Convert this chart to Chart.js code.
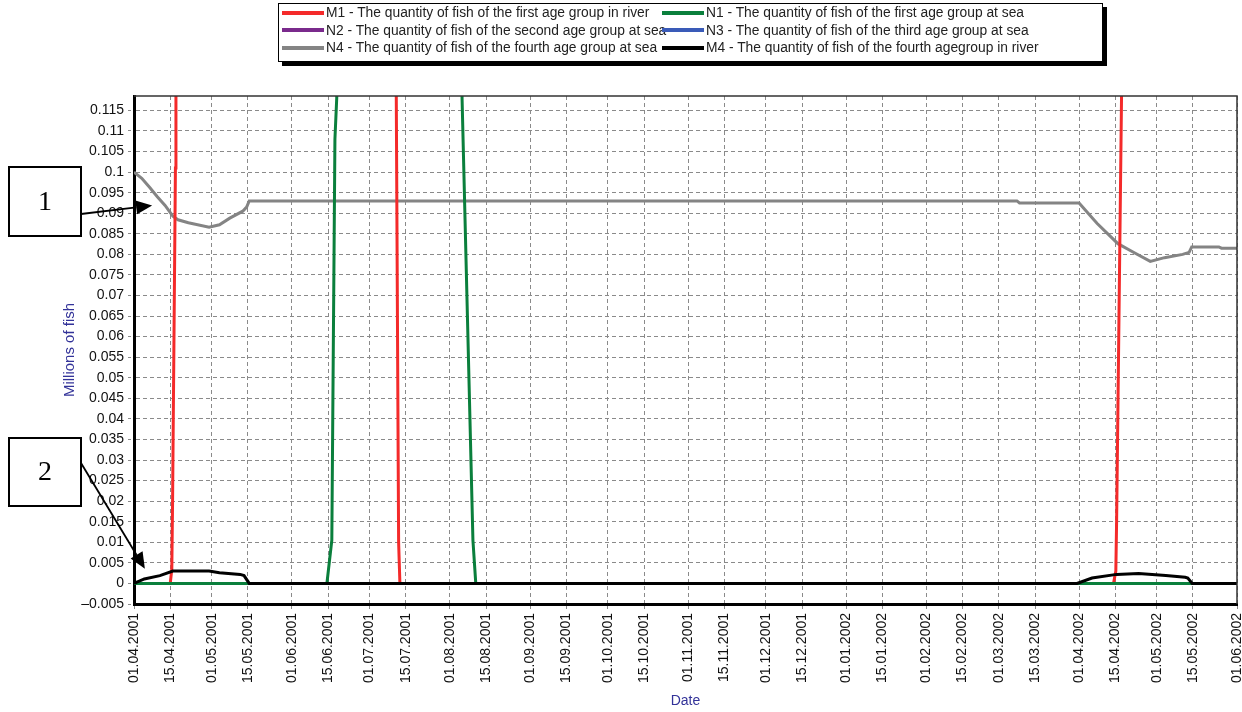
<!DOCTYPE html>
<html>
<head>
<meta charset="utf-8">
<title>Quantity of fish by age group</title>
<script src="https://cdn.jsdelivr.net/npm/chart.js@4.4.1/dist/chart.umd.min.js"></script>
<style>
    body { margin: 0; background: #fff; }
    #wrap { position: relative; width: 1242px; height: 712px; }
    #legend {
        position: absolute; left: 278px; top: 3px; width: 825px; height: 59px;
        box-sizing: border-box; border: 1px solid #000; box-shadow: 4px 4px 0 #000;
        background: #fff; padding: 0 0 0 3px;
        display: grid; grid-template-columns: 380px 440px; grid-auto-rows: 17.5px;
        font: 13.8px 'Liberation Sans', Arial, sans-serif; color: #222;
    }
    .item { display: flex; align-items: center; white-space: nowrap; }
    .swatch { width: 42px; height: 4px; margin-right: 2px; flex: none; }
</style>
</head>
<body>
<div id="wrap">
    <canvas id="fishChart" width="1242" height="712"></canvas>
    <div id="legend"></div>
</div>
<script>
// x is days since 01.04.2001
var startDate = Date.UTC(2001, 3, 1);

// tick labels
var xTickLabels = ['01.04.2001', '15.04.2001', '01.05.2001', '15.05.2001', '01.06.2001', '15.06.2001',
    '01.07.2001', '15.07.2001', '01.08.2001', '15.08.2001', '01.09.2001', '15.09.2001',
    '01.10.2001', '15.10.2001', '01.11.2001', '15.11.2001', '01.12.2001', '15.12.2001',
    '01.01.2002', '15.01.2002', '01.02.2002', '15.02.2002', '01.03.2002', '15.03.2002',
    '01.04.2002', '15.04.2002', '01.05.2002', '15.05.2002', '01.06.2002'];
var yTicks = [-0.005, 0, 0.005, 0.01, 0.015, 0.02, 0.025, 0.03, 0.035, 0.04, 0.045, 0.05, 0.055,
    0.06, 0.065, 0.07, 0.075, 0.08, 0.085, 0.09, 0.095, 0.1, 0.105, 0.11, 0.115];

// M1 - first age group in river (goes off the top of the scale)
var m1Days = [0, 14.0, 14.6, 14.9, 16.0, 16.2, 101.1, 101.3, 102.2, 102.7, 378.3, 379.2, 379.5, 381.4, 381.6, 426];
var m1Values = [0, 0, 0.0035, 0.02, 0.101, 0.2, 0.2, 0.118, 0.01, 0, 0, 0.003, 0.015, 0.118, 0.2, 0.2];

// N1 - first age group at sea
var n1Days = [0, 74.5, 76.4, 77.6, 78.3, 78.5, 126.5, 126.7, 130.9, 132.0, 426];
var n1Values = [0, 0, 0.0105, 0.108, 0.118, 0.2, 0.2, 0.118, 0.0105, 0, 0];

// N2, N3 - second and third age groups at sea
var n2Days = [0, 426];
var n2Values = [0, 0];
var n3Days = [0, 426];
var n3Values = [0, 0];

// N4 - fourth age group at sea
var n4Days = [0, 3, 6, 9, 12, 15, 17, 21, 29, 33, 37, 42, 43.5, 44.5, 341, 342, 365, 372, 380, 386,
    392.5, 398, 405, 407.5, 408.5, 419, 420, 426];
var n4Values = [0.1, 0.0985, 0.0963, 0.094, 0.0919, 0.0893, 0.0884, 0.0877, 0.0866, 0.0872, 0.0888, 0.0905,
    0.0915, 0.093, 0.093, 0.0925, 0.0925, 0.0875, 0.0826, 0.0805, 0.0783, 0.0792, 0.08, 0.0805, 0.0818,
    0.0818, 0.0815, 0.0815];

// M4 - fourth age group in river
var m4Days = [0, 4, 10, 15, 29, 33, 41, 42.5, 44.5, 364.2, 370, 379.5, 388, 398.5, 406, 407, 408.7, 426];
var m4Values = [0, 0.0011, 0.0019, 0.003, 0.003, 0.0026, 0.0022, 0.0019, 0, 0, 0.0013, 0.0022, 0.0024,
    0.0019, 0.0015, 0.0013, 0, 0];

function dayOf(label) {
    var p = label.split('.');
    return (Date.UTC(+p[2], +p[1] - 1, +p[0]) - startDate) / 86400000;
}
var xTickDays = xTickLabels.map(dayOf);

function points(days, values) {
    return days.map(function (d, i) { return { x: d, y: values[i] }; });
}

function formatY(v) {
    var s = String(Number(v.toFixed(4)));
    return s.replace('-', '\u2013');
}

// legend order is row by row, two columns; lower order is drawn on top
var series = [
    { label: 'M1 - The quantity of fish of the first age group in river', color: '#f42a2a', days: m1Days, values: m1Values, order: 2 },
    { label: 'N1 - The quantity of fish of the first age group at sea', color: '#0a7f3c', days: n1Days, values: n1Values, order: 1 },
    { label: 'N2 - The quantity of fish of the second age group at sea', color: '#7a2a8c', days: n2Days, values: n2Values, order: 4 },
    { label: 'N3 - The quantity of fish of the third age group at sea', color: '#3a5bb8', days: n3Days, values: n3Values, order: 5 },
    { label: 'N4 - The quantity of fish of the fourth age group at sea', color: '#848484', days: n4Days, values: n4Values, order: 3 },
    { label: 'M4 - The quantity of fish of the fourth agegroup in river', color: '#000000', days: m4Days, values: m4Values, order: 0 }
];

// boxes "1" and "2" with arrows pointing into the plot
var notes = [
    { text: '1', box: [9, 167, 72, 69], from: [81, 214], tipDay: 7, tipValue: 0.0919 },
    { text: '2', box: [9, 438, 72, 68], from: [81, 463], tipDay: 4.2, tipValue: 0.0036 }
];

var frameAndNotes = {
    id: 'frameAndNotes',
    afterDraw: function (chart) {
        var ctx = chart.ctx, a = chart.chartArea;
        var x = chart.scales.x, y = chart.scales.y;
        ctx.save();
        // thin top and right frame
        ctx.strokeStyle = '#333';
        ctx.lineWidth = 1.5;
        ctx.beginPath();
        ctx.moveTo(a.left, a.top);
        ctx.lineTo(a.right, a.top);
        ctx.lineTo(a.right, a.bottom);
        ctx.stroke();

        notes.forEach(function (n) {
            ctx.fillStyle = '#fff';
            ctx.fillRect(n.box[0], n.box[1], n.box[2], n.box[3]);
            ctx.strokeStyle = '#000';
            ctx.lineWidth = 2;
            ctx.strokeRect(n.box[0], n.box[1], n.box[2], n.box[3]);
            ctx.fillStyle = '#000';
            ctx.font = '28px "Liberation Serif", "DejaVu Serif", serif';
            ctx.textAlign = 'center';
            ctx.textBaseline = 'middle';
            ctx.fillText(n.text, n.box[0] + n.box[2] / 2, n.box[1] + n.box[3] / 2 + 1);

            var tx = x.getPixelForValue(n.tipDay), ty = y.getPixelForValue(n.tipValue);
            var ang = Math.atan2(ty - n.from[1], tx - n.from[0]);
            var len = 16, half = 7;
            var bx = tx - len * Math.cos(ang), by = ty - len * Math.sin(ang);
            ctx.lineWidth = 1.8;
            ctx.beginPath();
            ctx.moveTo(n.from[0], n.from[1]);
            ctx.lineTo(bx, by);
            ctx.stroke();
            ctx.beginPath();
            ctx.moveTo(tx, ty);
            ctx.lineTo(bx - half * Math.sin(ang), by + half * Math.cos(ang));
            ctx.lineTo(bx + half * Math.sin(ang), by - half * Math.cos(ang));
            ctx.closePath();
            ctx.fill();
        });
        ctx.restore();
    }
};

Chart.defaults.font.family = "'Liberation Sans', Arial, sans-serif";

var chart = new Chart(document.getElementById('fishChart'), {
    type: 'line',
    data: {
        datasets: series.map(function (s) {
            return {
                label: s.label,
                data: points(s.days, s.values),
                borderColor: s.color,
                backgroundColor: s.color,
                order: s.order,
                fill: false
            };
        })
    },
    options: {
        responsive: false,
        animation: false,
        devicePixelRatio: 1,
        layout: { padding: { top: 96, left: 61, right: 0, bottom: 0 } },
        plugins: { legend: { display: false }, tooltip: { enabled: false } },
        elements: {
            point: { radius: 0 },
            line: { borderWidth: 3, tension: 0 }
        },
        scales: {
            x: {
                type: 'linear',
                min: 0,
                max: 426,
                afterBuildTicks: function (s) {
                    s.ticks = xTickDays.map(function (v) { return { value: v }; });
                },
                afterFit: function (s) {
                    s.height = 108;
                    s.paddingLeft = 0;
                    s.paddingRight = 5;
                },
                ticks: {
                    autoSkip: false,
                    minRotation: 90,
                    maxRotation: 90,
                    padding: 2,
                    color: '#111',
                    font: { size: 14 },
                    callback: function (v) { return xTickLabels[xTickDays.indexOf(v)]; }
                },
                grid: { color: '#8a8a8a', lineWidth: 1, tickLength: 7, tickColor: '#8a8a8a', tickBorderDash: [3, 3] },
                border: { color: '#000', width: 3, dash: [4, 3] },
                title: { display: true, text: 'Date', color: '#333399', font: { size: 14 }, padding: { top: 0, bottom: 2 } }
            },
            y: {
                type: 'linear',
                min: -0.005,
                max: 0.1185,
                afterBuildTicks: function (s) {
                    s.ticks = yTicks.map(function (v) { return { value: v }; });
                },
                afterFit: function (s) {
                    s.width = 73;
                },
                ticks: {
                    padding: 4,
                    color: '#111',
                    font: { size: 14 },
                    callback: function (v) { return formatY(v); }
                },
                grid: { color: '#8a8a8a', lineWidth: 1, tickLength: 6, tickColor: '#8a8a8a', tickBorderDash: [3, 3] },
                border: { color: '#000', width: 3, dash: [4, 3] },
                title: { display: true, text: 'Millions of fish', color: '#333399', font: { size: 15 }, padding: { top: 0, bottom: 0 } }
            }
        }
    },
    plugins: [frameAndNotes]
});

// html legend, two columns like the original
var legendEl = document.getElementById('legend');
chart.data.datasets.forEach(function (ds) {
    var item = document.createElement('div');
    item.className = 'item';
    var sw = document.createElement('span');
    sw.className = 'swatch';
    sw.style.background = ds.borderColor;
    item.appendChild(sw);
    item.appendChild(document.createTextNode(ds.label));
    legendEl.appendChild(item);
});
</script>
</body>
</html>
